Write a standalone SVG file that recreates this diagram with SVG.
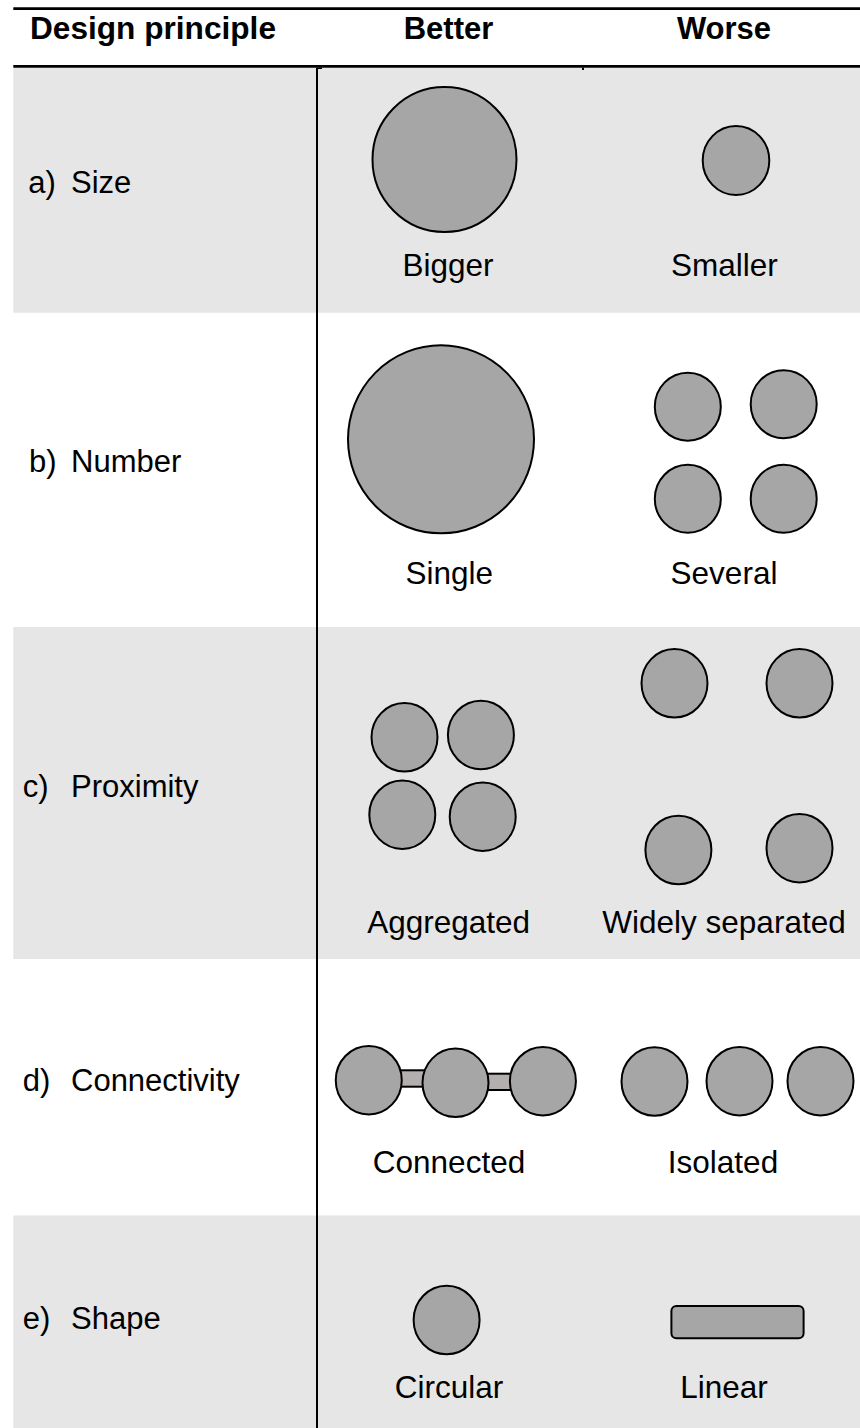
<svg xmlns="http://www.w3.org/2000/svg" width="860" height="1428" viewBox="0 0 860 1428">
  <style>
    text { font-family: "Liberation Sans", Arial, sans-serif; font-size: 31px; fill: #000; }
    .hd { font-weight: bold; }
    .mid { text-anchor: middle; font-size: 31.5px; }
    .band { fill: #e6e6e6; }
    .dot { fill: #a6a6a6; stroke: #000; stroke-width: 2; }
    .link { fill: #b4afaf; stroke: #000; stroke-width: 2; }
    .rule { stroke: #000; stroke-width: 2.7; fill: none; }
    .vline { stroke: #000; stroke-width: 2; fill: none; }
  </style>
  <rect width="860" height="1428" fill="#ffffff"/>

  <g id="bands">
    <rect class="band" x="13.3" y="67.7" width="846.7" height="245"/>
    <rect class="band" x="13.3" y="627" width="846.7" height="332"/>
    <rect class="band" x="13.3" y="1215.5" width="846.7" height="212.5"/>
  </g>

  <g id="table-lines">
    <line class="rule" x1="13.3" y1="8.7" x2="860" y2="8.7"/>
    <line class="rule" x1="13.3" y1="66.3" x2="860" y2="66.3"/>
    <line class="vline" x1="317" y1="67.7" x2="317" y2="1428"/>
    <rect x="317" y="67.5" width="5" height="1.5" fill="#000"/>
    <rect x="582" y="67.5" width="2" height="2.5" fill="#000"/>
  </g>

  <g id="header">
    <text class="hd" x="30" y="39" textLength="246" lengthAdjust="spacingAndGlyphs">Design principle</text>
    <text class="hd" x="448.5" y="39" text-anchor="middle">Better</text>
    <text class="hd" x="724" y="39" text-anchor="middle">Worse</text>
  </g>

  <g id="row-a-label"><text y="193.3"><tspan x="28.3">a)</tspan><tspan x="71">Size</tspan></text></g>
  <g id="row-b-label"><text y="471.7"><tspan x="29">b)</tspan><tspan x="71">Number</tspan></text></g>
  <g id="row-c-label"><text y="797"><tspan x="22.7">c)</tspan><tspan x="71">Proximity</tspan></text></g>
  <g id="row-d-label"><text y="1091"><tspan x="22.7">d)</tspan><tspan x="71">Connectivity</tspan></text></g>
  <g id="row-e-label"><text y="1329"><tspan x="22.7">e)</tspan><tspan x="71">Shape</tspan></text></g>

  <g id="a-bigger">
    <ellipse class="dot" cx="444.5" cy="159.5" rx="72" ry="72.5"/>
    <text class="mid" x="448" y="275.7">Bigger</text>
  </g>
  <g id="a-smaller">
    <ellipse class="dot" cx="736" cy="160.5" rx="33.3" ry="34.5"/>
    <text class="mid" x="724.3" y="275.7">Smaller</text>
  </g>

  <g id="b-single">
    <ellipse class="dot" cx="441" cy="439.3" rx="93" ry="94"/>
    <text class="mid" x="449.3" y="584">Single</text>
  </g>
  <g id="b-several">
    <ellipse class="dot" cx="687.8" cy="406.7" rx="33" ry="34"/>
    <ellipse class="dot" cx="783.7" cy="404.2" rx="33" ry="34"/>
    <ellipse class="dot" cx="687.8" cy="498.8" rx="33" ry="34"/>
    <ellipse class="dot" cx="783.7" cy="498.8" rx="33" ry="34"/>
    <text class="mid" x="724" y="584">Several</text>
  </g>

  <g id="c-aggregated">
    <ellipse class="dot" cx="404.5" cy="737.3" rx="33" ry="34.2"/>
    <ellipse class="dot" cx="480.9" cy="735" rx="33" ry="34.2"/>
    <ellipse class="dot" cx="402.3" cy="814.7" rx="33" ry="34.2"/>
    <ellipse class="dot" cx="482.7" cy="816.7" rx="33" ry="34.2"/>
    <text class="mid" x="448.6" y="933">Aggregated</text>
  </g>
  <g id="c-widely-separated">
    <ellipse class="dot" cx="674.5" cy="683.3" rx="33" ry="34.2"/>
    <ellipse class="dot" cx="799.5" cy="683.3" rx="33" ry="34.2"/>
    <ellipse class="dot" cx="678.4" cy="850" rx="33" ry="34.2"/>
    <ellipse class="dot" cx="799.5" cy="848.2" rx="33" ry="34.2"/>
    <text class="mid" x="724" y="933">Widely separated</text>
  </g>

  <g id="connectors">
    <rect class="link" x="398" y="1070.3" width="29" height="16.4"/>
    <rect class="link" x="485.5" y="1073.7" width="28" height="16.3"/>
  </g>

  <g id="d-connected">
    <ellipse class="dot" cx="368.75" cy="1080.2" rx="33" ry="34.2"/>
    <ellipse class="dot" cx="455.5" cy="1082.8" rx="33" ry="34.2"/>
    <ellipse class="dot" cx="542.9" cy="1081.2" rx="33" ry="34.2"/>
    <text class="mid" x="449" y="1172.5">Connected</text>
  </g>
  <g id="d-isolated">
    <ellipse class="dot" cx="654.5" cy="1081.5" rx="33" ry="34.2"/>
    <ellipse class="dot" cx="739.5" cy="1081.2" rx="33" ry="34.2"/>
    <ellipse class="dot" cx="820.5" cy="1081.2" rx="33" ry="34.2"/>
    <text class="mid" x="723" y="1172.5">Isolated</text>
  </g>

  <g id="e-circular">
    <ellipse class="dot" cx="446.6" cy="1320" rx="33" ry="34.2"/>
    <text class="mid" x="449" y="1398">Circular</text>
  </g>
  <g id="e-linear">
    <rect class="dot" x="671.4" y="1306" width="132.2" height="32.3" rx="5" ry="5"/>
    <text class="mid" x="724" y="1398">Linear</text>
  </g>
</svg>
